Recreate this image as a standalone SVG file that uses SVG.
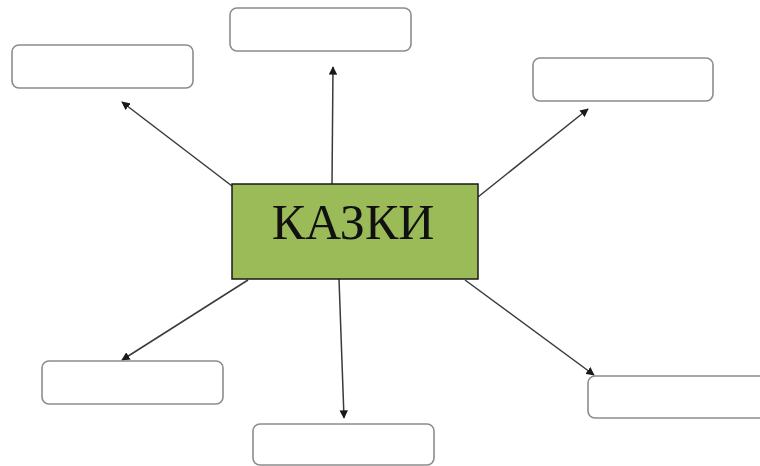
<svg xmlns="http://www.w3.org/2000/svg" width="760" height="466" viewBox="0 0 760 466">
  <style>
    .box { fill: #ffffff; stroke: #8c8c8c; stroke-width: 1.6; }
    .hub { fill: #9bbb59; stroke: #1a1a1a; stroke-width: 1.5; }
    .link { stroke: #3a3a3a; stroke-width: 1.5; fill: none; marker-end: url(#tip); }
    .title { font-family: "Liberation Serif", "Times New Roman", serif; font-size: 50px; fill: #111111; }
  </style>
  <defs>
    <marker id="tip" viewBox="0 0 10 10" refX="9" refY="5" markerWidth="8.5" markerHeight="8.5" markerUnits="userSpaceOnUse" orient="auto">
      <path d="M0,0 L10,5 L0,10 Z" fill="#1a1a1a"/>
    </marker>
  </defs>
  <rect width="760" height="466" fill="#ffffff"/>

  <g id="connectors">
    <line class="link" x1="232" y1="186" x2="122" y2="102"/>
    <line class="link" x1="332" y1="184" x2="333" y2="67"/>
    <line class="link" x1="478" y1="197" x2="588" y2="109"/>
    <line class="link" x1="248" y1="280" x2="122" y2="360"/>
    <line class="link" x1="339" y1="279" x2="344" y2="418"/>
    <line class="link" x1="465" y1="280" x2="594" y2="375"/>
  </g>

  <g id="hub">
    <rect class="hub" x="232" y="184" width="246" height="95"/>
    <text class="title" x="353" y="239" text-anchor="middle">КАЗКИ</text>
  </g>

  <g id="box-top-left">
    <rect class="box" x="12" y="45" width="181" height="43" rx="7"/>
  </g>
  <g id="box-top">
    <rect class="box" x="230" y="8" width="181" height="43" rx="7"/>
  </g>
  <g id="box-top-right">
    <rect class="box" x="533" y="58" width="180" height="43" rx="7"/>
  </g>
  <g id="box-bottom-left">
    <rect class="box" x="42" y="361" width="181" height="43" rx="7"/>
  </g>
  <g id="box-bottom">
    <rect class="box" x="253" y="424" width="181" height="41" rx="7"/>
  </g>
  <g id="box-bottom-right">
    <rect class="box" x="588" y="376" width="181" height="42" rx="7"/>
  </g>
</svg>
